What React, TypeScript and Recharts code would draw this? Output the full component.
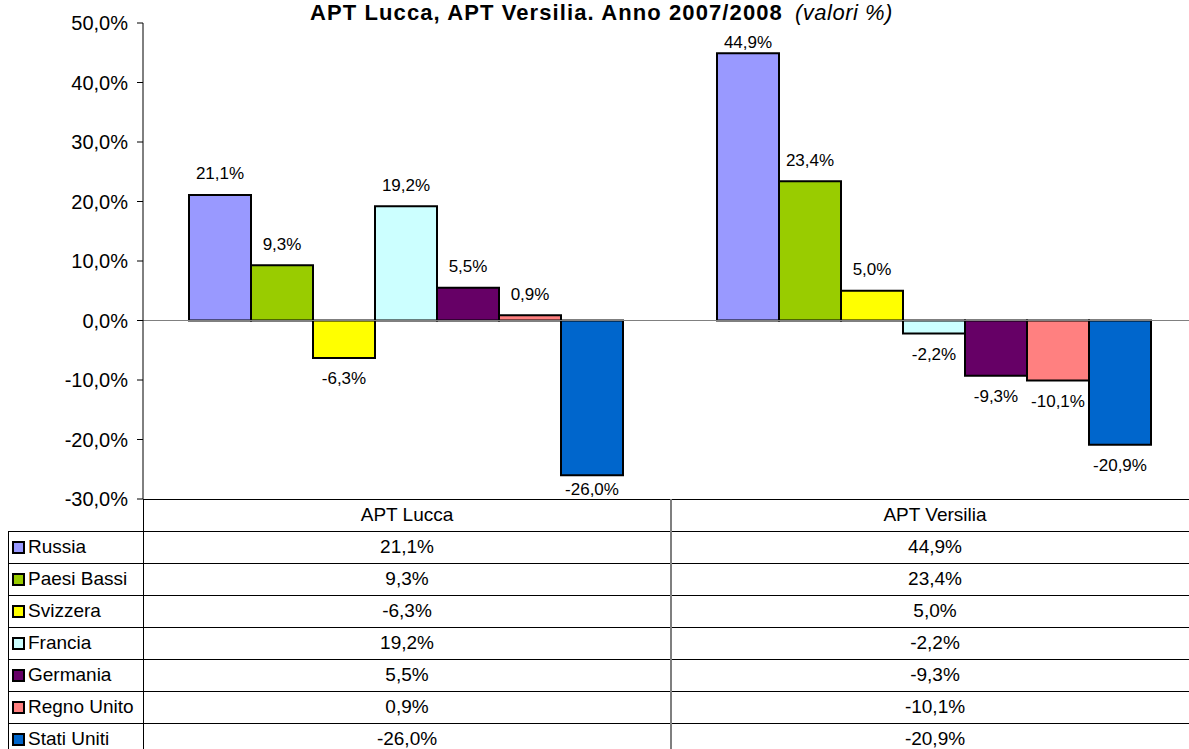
import React from "react";
import { BarChart, Bar, XAxis, YAxis, ReferenceLine, LabelList } from "recharts";

const categories = ["APT Lucca", "APT Versilia"];
const countries = ["Russia", "Paesi Bassi", "Svizzera", "Francia", "Germania", "Regno Unito", "Stati Uniti"];
const lucca = [21.1, 9.3, -6.3, 19.2, 5.5, 0.9, -26.0];
const versilia = [44.9, 23.4, 5.0, -2.2, -9.3, -10.1, -20.9];
const colors = ["#9999FF", "#99CC00", "#FFFF00", "#CCFFFF", "#660066", "#FF8080", "#0066CC"];
const yTicks = [-30, -20, -10, 0, 10, 20, 30, 40, 50];

const seriesByCategory = [lucca, versilia];

const data = categories.map((name, ci) => {
  const row: Record<string, string | number> = { name };
  countries.forEach((c, i) => {
    row[c] = seriesByCategory[ci][i];
  });
  return row;
});

const FONT = "Arial, 'Liberation Sans', sans-serif";
const CHART_H = 520;
const PLOT_TOP = 23;
const PLOT_BOTTOM = 499;
const TABLE_TOP = 499;
const ROW_H = 32;
const COL_X = [8, 143, 671, 1199];

const fmt = (v: number) => v.toFixed(1).replace(".", ",") + "%";

const renderLabel = (props: any) => {
  const x = Number(props.x);
  const y = Number(props.y);
  const w = Number(props.width);
  const h = Number(props.height);
  const value = Number(props.value);
  const top = Math.min(y, y + h);
  const bottom = Math.max(y, y + h);
  let cy = value >= 0 ? top - 21 : bottom + 21;
  cy = Math.max(PLOT_TOP + 19, Math.min(PLOT_BOTTOM - 10, cy));
  return (
    <text
      x={x + w / 2}
      y={cy}
      textAnchor="middle"
      dominantBaseline="central"
      fontSize={17}
      fontFamily={FONT}
      fill="#000"
    >
      {fmt(value)}
    </text>
  );
};

function DataTable() {
  const rows = countries.length + 1;
  const lines: React.ReactNode[] = [];
  for (let i = 0; i <= rows; i++) {
    const left = i === 0 ? COL_X[1] : COL_X[0];
    lines.push(
      <div
        key={"h" + i}
        style={{
          position: "absolute",
          left,
          top: TABLE_TOP + i * ROW_H,
          width: COL_X[3] - left,
          height: 1,
          background: "#000",
        }}
      />
    );
  }
  const bottom = TABLE_TOP + rows * ROW_H;
  lines.push(
    <div key="v0" style={{ position: "absolute", left: COL_X[0], top: TABLE_TOP + ROW_H, width: 1, height: bottom - TABLE_TOP - ROW_H, background: "#000" }} />,
    <div key="v1" style={{ position: "absolute", left: COL_X[1], top: TABLE_TOP, width: 1, height: bottom - TABLE_TOP, background: "#000" }} />,
    <div key="v2" style={{ position: "absolute", left: COL_X[2] - 1, top: TABLE_TOP, width: 2, height: bottom - TABLE_TOP, background: "#7f7f7f" }} />
  );

  const cell = (key: string, left: number, top: number, width: number, text: string) => (
    <div
      key={key}
      style={{
        position: "absolute",
        left,
        top,
        width,
        height: ROW_H,
        lineHeight: ROW_H + "px",
        textAlign: "center",
        fontSize: 19,
        fontFamily: FONT,
        color: "#000",
      }}
    >
      {text}
    </div>
  );

  const cells: React.ReactNode[] = [];
  categories.forEach((c, ci) => {
    cells.push(cell("hd" + ci, COL_X[ci + 1], TABLE_TOP, COL_X[ci + 2] - COL_X[ci + 1], c));
  });
  countries.forEach((country, i) => {
    const top = TABLE_TOP + (i + 1) * ROW_H;
    cells.push(
      <div
        key={"lbl" + i}
        style={{
          position: "absolute",
          left: COL_X[0] + 4,
          top,
          height: ROW_H,
          display: "flex",
          alignItems: "center",
          fontSize: 19,
          fontFamily: FONT,
          color: "#000",
          whiteSpace: "nowrap",
        }}
      >
        <span
          style={{
            display: "inline-block",
            width: 9,
            height: 9,
            border: "2px solid #000",
            background: colors[i],
            marginRight: 3,
          }}
        />
        {country}
      </div>
    );
    seriesByCategory.forEach((vals, ci) => {
      cells.push(cell("v" + i + "-" + ci, COL_X[ci + 1], top, COL_X[ci + 2] - COL_X[ci + 1], fmt(vals[i])));
    });
  });

  return (
    <>
      {lines}
      {cells}
    </>
  );
}

export default function App() {
  return (
    <div
      style={{
        position: "absolute",
        left: 0,
        top: 0,
        width: 1189,
        height: 749,
        overflow: "hidden",
        background: "#fff",
      }}
    >
      <div style={{ position: "absolute", left: 0, top: 0 }}>
        <BarChart
          width={1220}
          height={CHART_H}
          data={data}
          margin={{ top: PLOT_TOP, right: 1220 - COL_X[3], left: 0, bottom: CHART_H - PLOT_BOTTOM }}
          barCategoryGap={46}
          barGap={0}
        >
          <XAxis dataKey="name" hide />
          <YAxis
            type="number"
            width={COL_X[1]}
            domain={[-30, 50]}
            ticks={yTicks}
            interval={0}
            allowDataOverflow
            tickFormatter={fmt}
            tick={{ fontSize: 20, fontFamily: FONT, fill: "#000" }}
            tickSize={6}
            tickMargin={9}
            axisLine={{ stroke: "#000" }}
            tickLine={{ stroke: "#000" }}
          />
          <ReferenceLine y={0} stroke="#808080" />
          {countries.map((c, i) => (
            <Bar
              key={c}
              dataKey={c}
              fill={colors[i]}
              stroke="#000"
              strokeWidth={2}
              isAnimationActive={false}
            >
              <LabelList dataKey={c} content={renderLabel} />
            </Bar>
          ))}
        </BarChart>
      </div>
      <svg width={1189} height={30} style={{ position: "absolute", left: 0, top: 0 }}>
        <text x={310} y={20} fontFamily={FONT} fontSize={22} fill="#000">
          <tspan fontWeight="bold" letterSpacing={1.1}>
            APT Lucca, APT Versilia. Anno 2007/2008
          </tspan>
          <tspan x={795} fontStyle="italic" letterSpacing={0.5}>
            (valori %)
          </tspan>
        </text>
      </svg>
      <DataTable />
    </div>
  );
}
